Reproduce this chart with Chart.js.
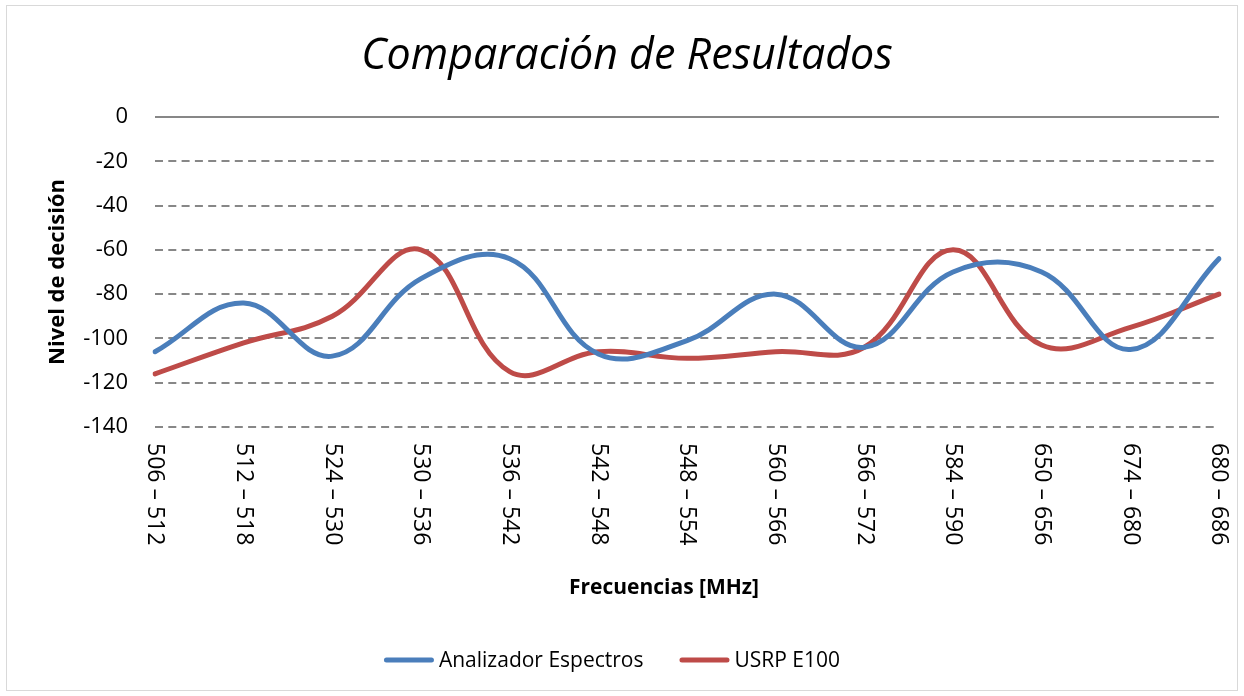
<!DOCTYPE html>
<html lang="es">
<head>
<meta charset="utf-8">
<title>Comparación de Resultados</title>
<script src="https://cdn.jsdelivr.net/npm/chart.js@4.4.1/dist/chart.umd.min.js"></script>
<style>
  html, body { margin: 0; padding: 0; background: #ffffff; }
  #wrap { position: relative; width: 1244px; height: 696px; }
</style>
</head>
<body>
<div id="wrap"><canvas id="chart" width="1244" height="696"></canvas></div>
<script>
// Frequency bands (MHz) on the category axis
const bandas = [
  '506 – 512', '512 – 518', '524 – 530', '530 – 536', '536 – 542',
  '542 – 548', '548 – 554', '560 – 566', '566 – 572', '584 – 590',
  '650 – 656', '674 – 680', '680 – 686'
];

// Decision level measured with the spectrum analyzer
const analizadorEspectros = [-106, -84, -108, -73, -64, -107, -101, -80, -104, -70, -70, -105, -64];

// Decision level measured with the USRP E100
const usrpE100 = [-116, -102, -90, -60, -115, -106, -109, -106, -104, -60, -103, -95, -80];

// Value axis ticks
const yMin = -140;
const yMax = 0;
const yPaso = 20;

const tituloGrafico = 'Comparación de Resultados';
const tituloEjeX = 'Frecuencias [MHz]';
const tituloEjeY = 'Nivel de decisión';

const FONT = '"Open Sans", "Liberation Sans", sans-serif';
const AZUL = '#4a7ebb';
const ROJO = '#be4b48';

// White page with a thin light-grey frame around it
const marco = {
  id: 'marco',
  beforeDraw(chart) {
    const { ctx, width, height } = chart;
    ctx.save();
    ctx.fillStyle = '#ffffff';
    ctx.fillRect(0, 0, width, height);
    ctx.strokeStyle = '#d9d9d9';
    ctx.lineWidth = 1;
    ctx.strokeRect(6.5, 5.5, width - 13, height - 11);
    ctx.restore();
  }
};

// Title, axis titles, vertical category labels and legend
const textos = {
  id: 'textos',
  afterDraw(chart) {
    const { ctx, chartArea } = chart;
    const xScale = chart.scales.x;
    ctx.save();
    ctx.fillStyle = '#000000';

    // chart title
    ctx.font = `italic 43px ${FONT}`;
    ctx.textAlign = 'center';
    ctx.textBaseline = 'middle';
    ctx.fillText(tituloGrafico, 627, 57);

    // category labels, rotated to read top to bottom
    ctx.font = `23px ${FONT}`;
    ctx.textAlign = 'left';
    ctx.textBaseline = 'middle';
    xScale.ticks.forEach((t, i) => {
      const x = xScale.getPixelForTick(i);
      ctx.save();
      ctx.translate(x, chartArea.bottom + 16);
      ctx.rotate(Math.PI / 2);
      ctx.fillText(xScale.getLabelForValue(t.value), 0, 0);
      ctx.restore();
    });

    // axis titles
    ctx.font = `bold 21px ${FONT}`;
    ctx.textAlign = 'center';
    ctx.textBaseline = 'middle';
    ctx.fillText(tituloEjeX, 664, 588);

    ctx.save();
    ctx.translate(58, (chartArea.top + chartArea.bottom) / 2);
    ctx.rotate(-Math.PI / 2);
    ctx.font = `bold 22px ${FONT}`;
    ctx.fillText(tituloEjeY, 0, 0);
    ctx.restore();

    // legend built from the datasets
    ctx.font = `21px ${FONT}`;
    const muestra = 50, hueco = 5, separacion = 36;
    const items = chart.data.datasets.map(ds => ({
      label: ds.label, color: ds.borderColor, w: ctx.measureText(ds.label).width
    }));
    const total = items.reduce((s, it) => s + muestra + hueco + it.w, 0) + separacion * (items.length - 1);
    let x = 612 - total / 2;
    const y = 660;
    ctx.textAlign = 'left';
    ctx.textBaseline = 'middle';
    items.forEach(it => {
      ctx.beginPath();
      ctx.strokeStyle = it.color;
      ctx.lineWidth = 5;
      ctx.lineCap = 'round';
      ctx.moveTo(x + 2.5, y);
      ctx.lineTo(x + muestra - 2.5, y);
      ctx.stroke();
      ctx.fillStyle = '#000000';
      ctx.fillText(it.label, x + muestra + hueco, y + 1);
      x += muestra + hueco + it.w + separacion;
    });
    ctx.restore();
  }
};

new Chart(document.getElementById('chart'), {
  type: 'line',
  data: {
    labels: bandas,
    datasets: [
      {
        label: 'Analizador Espectros',
        data: analizadorEspectros,
        borderColor: AZUL,
        backgroundColor: AZUL,
        borderWidth: 5,
        pointRadius: 0,
        tension: 0.4,
        borderCapStyle: 'round',
        borderJoinStyle: 'round',
        fill: false
      },
      {
        label: 'USRP E100',
        data: usrpE100,
        borderColor: ROJO,
        backgroundColor: ROJO,
        borderWidth: 5,
        pointRadius: 0,
        tension: 0.4,
        borderCapStyle: 'round',
        borderJoinStyle: 'round',
        fill: false
      }
    ]
  },
  options: {
    responsive: false,
    animation: false,
    devicePixelRatio: 1,
    layout: { padding: { top: 117, left: 6, right: 25, bottom: 0 } },
    plugins: {
      legend: { display: false },
      title: { display: false },
      tooltip: { enabled: false }
    },
    scales: {
      x: {
        type: 'category',
        offset: false,
        grid: { display: false },
        border: { display: false },
        ticks: { display: false },
        afterFit(scale) { scale.height = 269; }
      },
      y: {
        min: yMin,
        max: yMax,
        ticks: {
          stepSize: yPaso,
          padding: 27,
          color: '#000000',
          font: { family: FONT, size: 22 }
        },
        grid: {
          color: '#878787',
          lineWidth: 2,
          drawTicks: false
        },
        border: {
          display: false,
          dash: ctx => (ctx.tick && ctx.tick.value === 0) ? [] : [8, 5.3]
        },
        afterFit(scale) { scale.width = 149; }
      }
    }
  },
  plugins: [marco, textos]
});
</script>
</body>
</html>
